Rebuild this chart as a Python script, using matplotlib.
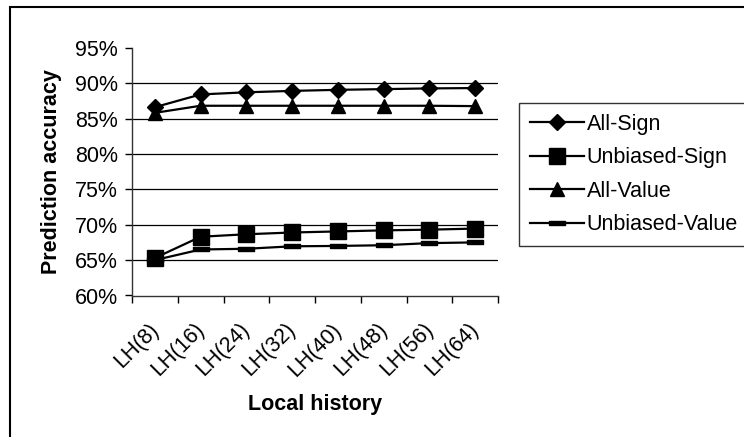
import numpy as np
import matplotlib
matplotlib.use("Agg")
import matplotlib.pyplot as plt
from matplotlib.patches import Rectangle
from matplotlib.ticker import FuncFormatter, FixedLocator
from matplotlib.transforms import ScaledTranslation

# ------------------------------------------------------------
# 数据
# ------------------------------------------------------------
categories = ["LH(8)", "LH(16)", "LH(24)", "LH(32)", "LH(40)", "LH(48)", "LH(56)", "LH(64)"]

all_sign = [86.6, 88.4, 88.7, 88.9, 89.05, 89.15, 89.25, 89.3]
unbiased_sign = [65.3, 68.3, 68.65, 68.9, 69.05, 69.2, 69.3, 69.45]
all_value = [85.8, 86.8, 86.8, 86.8, 86.8, 86.8, 86.8, 86.75]
unbiased_value = [65.0, 66.5, 66.6, 66.95, 67.0, 67.1, 67.4, 67.5]

y_ticks = [60, 65, 70, 75, 80, 85, 90, 95]

plt.rcParams["font.family"] = ["Liberation Sans", "DejaVu Sans"]
FS = 15.5

fig = plt.figure(figsize=(7.44, 4.37), dpi=100)
ax = fig.add_axes([132 / 744, 1 - 295.5 / 437, 366 / 744, 247.8 / 437])

x = np.arange(len(categories))

# 扁平矩形标记
dash_marker = [(-1.6, -0.45), (1.6, -0.45), (1.6, 0.45), (-1.6, 0.45), (-1.6, -0.45)]

line_kw = dict(color="black", lw=1.6, markerfacecolor="black", markeredgecolor="black")
ax.plot(x, all_sign, marker="D", markersize=8, label="All-Sign", **line_kw)
ax.plot(x, unbiased_sign, marker="s", markersize=11, label="Unbiased-Sign", **line_kw)
ax.plot(x, all_value, marker="^", markersize=10, label="All-Value", **line_kw)
ax.plot(x, unbiased_value, marker=dash_marker, markersize=12, label="Unbiased-Value", **line_kw)

# ------------------------------------------------------------
# 坐标轴
# ------------------------------------------------------------
ax.set_ylim(60, 95)
ax.set_xlim(-0.5, len(categories) - 0.5)
ax.yaxis.set_major_locator(FixedLocator(y_ticks))
ax.yaxis.set_major_formatter(FuncFormatter(lambda v, p: f"{v:.0f}%"))

for yv in y_ticks[1:-1]:
    ax.axhline(yv, color="black", lw=0.9, zorder=0)

ax.set_xticks(np.arange(-0.5, len(categories)), minor=False)
ax.set_xticklabels([])
ax.set_xticks(x, minor=True)
ax.set_xticklabels(categories, minor=True, rotation=45, ha="right", va="top",
                   rotation_mode="anchor", fontsize=FS)
ax.tick_params(axis="x", which="minor", length=0, pad=17)
ax.tick_params(axis="x", which="major", length=5, width=1, direction="out")
ax.tick_params(axis="y", length=5, width=1, direction="out", labelsize=FS, pad=5)

# 标签左移一点
shift = ScaledTranslation(-7 / 100, 0, fig.dpi_scale_trans)
for lbl in ax.get_xticklabels(minor=True):
    lbl.set_transform(lbl.get_transform() + shift)

for side in ["top", "right"]:
    ax.spines[side].set_visible(False)
for side in ["left", "bottom"]:
    ax.spines[side].set_linewidth(1)
    ax.spines[side].set_color("#333333")

ax.set_xlabel("Local history", fontsize=FS, fontweight="bold", labelpad=10)
ax.set_ylabel("Prediction accuracy", fontsize=FS, fontweight="bold", labelpad=9)

# ------------------------------------------------------------
# 图例
# ------------------------------------------------------------
leg = fig.legend(loc="upper left", bbox_to_anchor=(519 / 744, 1 - 103 / 437),
                 fontsize=FS, frameon=True, fancybox=False, handlelength=2.5,
                 borderpad=0.5, labelspacing=0.58, handletextpad=0.15,
                 borderaxespad=0)
leg.get_frame().set_edgecolor("black")
leg.get_frame().set_linewidth(1)

# 外框
fig.add_artist(Rectangle((10 / 744, -0.1), 1.2, 1 - 7 / 437 + 0.1,
                         transform=fig.transFigure, fill=False,
                         edgecolor="black", lw=1.5))

fig.savefig("out.png", dpi=100)
